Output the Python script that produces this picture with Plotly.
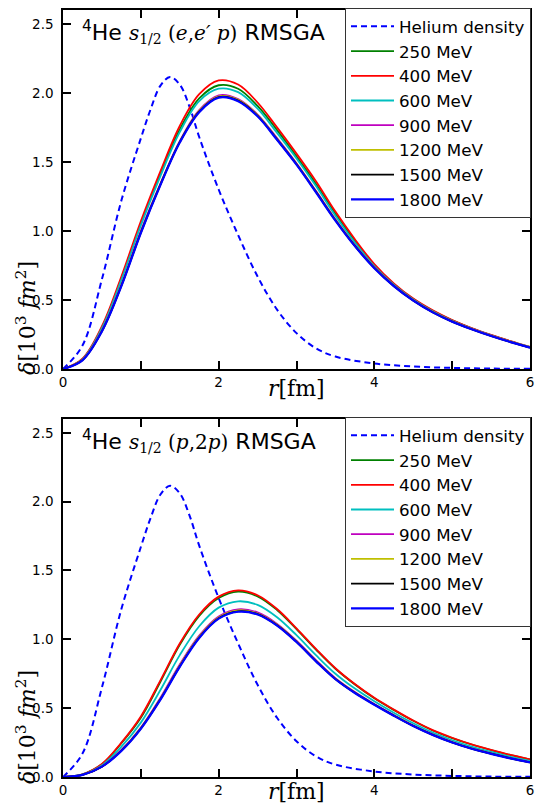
import plotly.graph_objects as go

# radial grid [fm]
r = [0, 0.25, 0.5, 0.75, 1.0, 1.25, 1.5, 1.75, 2.0, 2.25, 2.5, 2.75, 3.0,
     3.25, 3.5, 3.75, 4.0, 4.25, 4.5, 4.75, 5.0, 5.25, 5.5, 5.75, 6.0]

# helium density (same curve in both panels), finer sampling around the peak
r_density = [0, 0.25, 0.5, 0.75, 1.0, 1.125, 1.25, 1.375, 1.5, 1.625, 1.75, 2.0,
             2.25, 2.5, 2.75, 3.0, 3.25, 3.5, 4.0, 4.5, 5.0, 5.5, 6.0]
helium_density = [0, 0.17, 0.65, 1.22, 1.67, 1.88, 2.05, 2.115, 2.06, 1.90, 1.68, 1.30,
                  0.97, 0.67, 0.43, 0.26, 0.15, 0.09, 0.04, 0.018, 0.008, 0.003, 0.001]

energies = ["250 MeV", "400 MeV", "600 MeV", "900 MeV", "1200 MeV", "1500 MeV", "1800 MeV"]
colors = ["#008000", "#ff0000", "#00bfbf", "#bf00bf", "#bfbf00", "#000000", "#0000ff"]

# (e,e'p) panel
eep_250 = [0, 0.072, 0.30, 0.655, 1.052, 1.41, 1.735, 1.96, 2.055, 2.03, 1.905, 1.73,
           1.54, 1.34, 1.125, 0.928, 0.752, 0.615, 0.507, 0.421, 0.352, 0.295, 0.246, 0.201, 0.159]
eep_400 = [0, 0.075, 0.31, 0.67, 1.07, 1.43, 1.76, 1.99, 2.09, 2.06, 1.93, 1.75,
           1.56, 1.36, 1.14, 0.94, 0.76, 0.62, 0.51, 0.425, 0.355, 0.297, 0.247, 0.202, 0.16]
eep_600 = [0, 0.07, 0.295, 0.645, 1.04, 1.395, 1.715, 1.94, 2.03, 2.005, 1.885, 1.71,
           1.525, 1.325, 1.11, 0.915, 0.745, 0.61, 0.503, 0.418, 0.349, 0.293, 0.244, 0.199, 0.158]
eep_900 = [0, 0.066, 0.28, 0.612, 1.0, 1.34, 1.65, 1.875, 1.982, 1.955, 1.843, 1.672,
           1.49, 1.29, 1.085, 0.897, 0.737, 0.604, 0.498, 0.413, 0.345, 0.29, 0.241, 0.197, 0.156]
eep_1200 = [0, 0.065, 0.277, 0.607, 0.993, 1.337, 1.646, 1.869, 1.975, 1.949, 1.838, 1.667,
            1.486, 1.286, 1.08, 0.894, 0.734, 0.602, 0.497, 0.412, 0.344, 0.289, 0.24, 0.196, 0.156]
eep_1500 = [0, 0.064, 0.274, 0.603, 0.988, 1.334, 1.643, 1.864, 1.969, 1.944, 1.834, 1.663,
            1.483, 1.283, 1.077, 0.892, 0.732, 0.601, 0.496, 0.411, 0.343, 0.288, 0.239, 0.195, 0.155]
eep_1800 = [0, 0.063, 0.272, 0.60, 0.985, 1.33, 1.64, 1.86, 1.965, 1.94, 1.83, 1.66,
            1.48, 1.28, 1.075, 0.89, 0.73, 0.60, 0.495, 0.41, 0.343, 0.288, 0.239, 0.195, 0.155]

# (p,2p) panel
p2p_250 = [0, 0.019, 0.092, 0.245, 0.43, 0.69, 0.96, 1.17, 1.30, 1.347, 1.312, 1.213,
           1.074, 0.925, 0.786, 0.672, 0.572, 0.487, 0.408, 0.338, 0.283, 0.236, 0.196, 0.159, 0.127]
p2p_400 = [0, 0.02, 0.095, 0.25, 0.44, 0.70, 0.97, 1.18, 1.31, 1.356, 1.32, 1.22,
           1.08, 0.93, 0.79, 0.675, 0.575, 0.49, 0.41, 0.34, 0.285, 0.237, 0.197, 0.16, 0.128]
p2p_600 = [0, 0.017, 0.085, 0.22, 0.395, 0.63, 0.885, 1.095, 1.23, 1.276, 1.25, 1.16,
           1.03, 0.885, 0.75, 0.642, 0.55, 0.467, 0.39, 0.322, 0.267, 0.221, 0.182, 0.147, 0.117]
p2p_900 = [0, 0.015, 0.077, 0.196, 0.359, 0.574, 0.817, 1.027, 1.166, 1.218, 1.195, 1.112,
           0.99, 0.849, 0.718, 0.617, 0.53, 0.45, 0.374, 0.309, 0.254, 0.208, 0.171, 0.137, 0.108]
p2p_1200 = [0, 0.015, 0.076, 0.193, 0.355, 0.567, 0.809, 1.019, 1.158, 1.21, 1.187, 1.106,
            0.985, 0.845, 0.714, 0.613, 0.527, 0.447, 0.372, 0.307, 0.252, 0.207, 0.169, 0.136, 0.107]
p2p_1500 = [0, 0.015, 0.075, 0.191, 0.352, 0.563, 0.803, 1.013, 1.153, 1.203, 1.183, 1.102,
            0.982, 0.842, 0.712, 0.611, 0.526, 0.446, 0.371, 0.306, 0.251, 0.206, 0.169, 0.135, 0.106]
p2p_1800 = [0, 0.015, 0.075, 0.19, 0.35, 0.56, 0.80, 1.01, 1.15, 1.20, 1.18, 1.10,
            0.98, 0.84, 0.71, 0.61, 0.525, 0.445, 0.37, 0.305, 0.25, 0.205, 0.168, 0.135, 0.106]

x_tickvals = [0, 1, 2, 3, 4, 5, 6]
x_ticktext = ["0", "", "2", "", "4", "", "6"]
y_tickvals = [0.0, 0.5, 1.0, 1.5, 2.0, 2.5]

panels = [
    ("x", "y", "legend", [eep_250, eep_400, eep_600, eep_900, eep_1200, eep_1500, eep_1800]),
    ("x2", "y2", "legend2", [p2p_250, p2p_400, p2p_600, p2p_900, p2p_1200, p2p_1500, p2p_1800]),
]

W, H = 535, 808
L, R, T, B = 63, 5, 10, 31
plot_w = W - L - R
plot_h = H - T - B


def px_x(p):
    return (p - L) / plot_w


def px_y(p):
    return (H - B - p) / plot_h


fig = go.Figure()
for xa, ya, lg, series in panels:
    fig.add_trace(go.Scatter(
        x=r_density, y=helium_density, xaxis=xa, yaxis=ya, legend=lg,
        name="Helium density", mode="lines", line_shape="spline",
        line=dict(color="#0000ff", width=2, dash="6px,4px")))
    for name, col, vals in zip(energies, colors, series):
        fig.add_trace(go.Scatter(
            x=r, y=vals, xaxis=xa, yaxis=ya, legend=lg, name=name,
            mode="lines", line_shape="spline",
            line=dict(color=col, width=2.2 if col == "#0000ff" else 1.8)))

axis_common = dict(
    showline=True, linecolor="black", linewidth=1.5, mirror="ticks",
    ticks="inside", ticklen=8, tickwidth=1.5, tickcolor="black",
    showgrid=False, zeroline=False, automargin=False,
    tickfont=dict(family="DejaVu Sans", size=13.5, color="black"),
)
xaxis_cfg = dict(axis_common, range=[0, 6], tickvals=x_tickvals, ticktext=x_ticktext)
yaxis_cfg = dict(axis_common, range=[0, 2.6], tickvals=y_tickvals, tickformat=".1f",
                 ticklabelstandoff=5)

top_dom = [px_y(369), px_y(10)]
bot_dom = [px_y(777), px_y(419)]

legend_cfg = dict(
    xanchor="right", yanchor="top", x=px_x(531),
    bgcolor="white", bordercolor="#333333", borderwidth=1,
    font=dict(family="DejaVu Sans", size=16.7, color="black"),
    itemwidth=43, tracegroupgap=0,
)

serif = "font-family:DejaVu Serif;font-size:20px"
title_fmt = ('<sup>4</sup>He <span style="' + serif + '"><i>s</i><sub>1/2</sub> '
             '(<i>{}</i>)</span> RMSGA')
ylab = '<i>δ</i>[10<sup>3</sup> <i>fm</i><sup>2</sup>]'
xlab = '<i>r</i>[fm]'

annotations = []
for text, yc in [(title_fmt.format("e</i>,<i>e′ p"), 32), (title_fmt.format("p</i>,2<i>p"), 441)]:
    annotations.append(dict(
        text=text, xref="paper", yref="paper", x=px_x(80), y=px_y(yc),
        xanchor="left", yanchor="middle", showarrow=False,
        font=dict(family="DejaVu Sans", size=22, color="black")))
for yc in [318, 727]:
    annotations.append(dict(
        text=ylab, xref="paper", yref="paper", x=px_x(26), y=px_y(yc),
        xanchor="center", yanchor="middle", showarrow=False, textangle=-90,
        font=dict(family="DejaVu Serif", size=22, color="black")))
for yc in [388, 792]:
    annotations.append(dict(
        text=xlab, xref="paper", yref="paper", x=px_x(296), y=px_y(yc),
        xanchor="center", yanchor="middle", showarrow=False,
        font=dict(family="DejaVu Serif", size=22, color="black")))

fig.update_layout(
    width=W, height=H,
    margin=dict(l=L, r=R, t=T, b=B, autoexpand=False),
    paper_bgcolor="white", plot_bgcolor="white",
    font=dict(family="DejaVu Sans", color="black"),
    xaxis=dict(xaxis_cfg, domain=[0, 1], anchor="y"),
    yaxis=dict(yaxis_cfg, domain=top_dom, anchor="x"),
    xaxis2=dict(xaxis_cfg, domain=[0, 1], anchor="y2"),
    yaxis2=dict(yaxis_cfg, domain=bot_dom, anchor="x2"),
    legend=dict(legend_cfg, y=px_y(8)),
    legend2=dict(legend_cfg, y=px_y(417)),
    annotations=annotations,
    showlegend=True,
)

fig.write_html("out.html")
